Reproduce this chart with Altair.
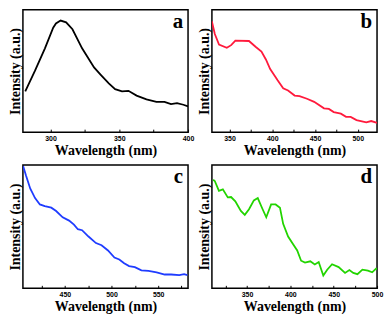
import altair as alt
import pandas as pd

# ---- data ----
a_wl = [281.7, 288.8, 296, 302, 304, 307.4, 311.4, 316, 323, 331.7, 336.4, 342.4, 347, 352,
        356.7, 362.6, 369.8, 377, 382.9, 387.6, 392, 396.6, 400]
a_int = [33.4, 50.2, 68.5, 85.4, 88.8, 91.2, 89.8, 84.1, 68.5, 52.9, 47.1, 39.8, 35.2, 33.4,
         33.8, 29.9, 26.8, 24.8, 24.8, 22.9, 23.7, 22.4, 21.1]

b_wl = [329.4, 332.9, 337.8, 346.9, 352, 356.9, 372.8, 380.5, 387.4, 392.6, 397.6, 406.3, 412.8,
        418.5, 426.2, 431.9, 440.6, 449, 460.5, 466.2, 471.9, 480.2, 486.3, 491.7, 498.5, 509.9,
        515.7, 522.5]
b_int = [90.6, 80.2, 71.6, 69.0, 71.1, 74.8, 74.5, 69.8, 65.9, 59.4, 51.6, 42.4, 35.9, 34.1,
         29.9, 29.5, 27.3, 24.8, 19.5, 19.0, 16.4, 15.1, 12.5, 12.5, 9.9, 8.0, 9.1, 7.6]

c_wl = [405.2, 408.3, 412.8, 418, 423.2, 428.4, 435.4, 440.6, 447.6, 454.5, 459.7, 463.9, 468.4,
        475.3, 483.3, 489.3, 496.2, 503.1, 508.3, 513.5, 518.8, 525, 532, 539.6, 548.3, 557,
        563.9, 572.6, 577.8, 581.3]
c_int = [99.2, 91.4, 81.0, 73.2, 68.0, 66.6, 65.4, 62.7, 57.6, 54.9, 51.6, 47.9, 47.1, 42.0,
         36.7, 34.9, 30.7, 25.0, 23.4, 20.3, 18.0, 17.2, 14.6, 14.1, 13.0, 11.2, 11.2, 10.7,
         11.5, 10.7]

d_wl = [310.9, 312.8, 317.6, 322.1, 327.8, 331.6, 336.5, 342.9, 347.4, 352.3, 357.9, 362.4, 368,
        372.2, 377.8, 383, 388, 391.7, 397.4, 403, 407.9, 412.4, 416.9, 423, 428.2, 432.7, 438,
        442.5, 448.1, 455.7, 463.1, 468.1, 472.6, 477.4, 483.1, 489.5, 494.4, 498.9, 500]
d_int = [88.0, 87.0, 79.1, 80.2, 73.7, 74.0, 70.5, 62.7, 59.6, 64.1, 71.3, 73.2, 64.1, 57.6,
         68.0, 68.0, 65.4, 52.3, 42.0, 35.9, 30.7, 22.4, 20.9, 21.9, 19.3, 21.3, 10.4, 15.1,
         19.5, 17.2, 12.5, 14.8, 12.5, 11.5, 15.1, 14.3, 13.0, 15.9, 15.4]

letters = ["a", "b", "c", "d"]
colors = ["#000000", "#ff1a3c", "#1f3cff", "#22d400"]
x_domains = [[280, 400], [329.5, 522.5], [405, 582], [309.5, 500]]
tick_vals = [
    [300, 325, 350, 375, 400],
    [350, 375, 400, 425, 450, 475, 500],
    [425, 450, 475, 500, 525, 550, 575],
    [325, 350, 375, 400, 425, 450, 475, 500],
]
series = [(a_wl, a_int), (b_wl, b_int), (c_wl, c_int), (d_wl, d_int)]

W = 166
HEIGHTS = [123, 123, 124, 124]
serif = "Liberation Serif"


def panel(i):
    wl, inten = series[i]
    H = HEIGHTS[i]
    df = pd.DataFrame({"wl": wl, "int": inten})
    xax = alt.Axis(
        title="Wavelength (nm)",
        values=tick_vals[i],
        labelExpr="datum.value % 50 == 0 ? datum.label : ''",
        tickSize=3,
        offset=-3,
        tickColor="black",
        tickWidth=1,
        domain=False,
        grid=False,
        labelFont="Liberation Sans",
        labelFontWeight="bold",
        labelFontSize=7,
        labelColor="black",
        labelPadding=2,
        labelFlush=False,
        titleFont=serif,
        titleFontWeight="bold",
        titleFontSize=14,
        titleColor="black",
        titlePadding=2,
    )
    yax = alt.Axis(
        title="Intensity (a.u.)",
        labels=False,
        ticks=False,
        domain=False,
        grid=False,
        titleFont=serif,
        titleFontWeight="bold",
        titleFontSize=14,
        titleColor="black",
        titlePadding=0,
    )
    line = alt.Chart(df).mark_line(color=colors[i], strokeWidth=1.8, clip=True).encode(
        x=alt.X("wl:Q", scale=alt.Scale(domain=x_domains[i], nice=False, zero=False), axis=xax),
        y=alt.Y("int:Q", scale=alt.Scale(domain=[0, 100], nice=False), axis=yax),
    )
    lab = alt.Chart(pd.DataFrame({"t": [letters[i]]})).mark_text(
        align="right", baseline="alphabetic", font=serif, fontWeight="bold", fontSize=21,
        color="black",
    ).encode(text="t:N", x=alt.value(W - 5), y=alt.value(18))
    return alt.layer(line, lab).properties(width=W, height=H)


chart = alt.concat(
    *[panel(i) for i in range(4)], columns=2, spacing={"row": 33, "column": 24}, bounds="flush"
).properties(padding=0).configure_view(stroke="black", strokeWidth=1.5)

chart.save("out.html", embed_options={"renderer": "svg", "actions": False})
